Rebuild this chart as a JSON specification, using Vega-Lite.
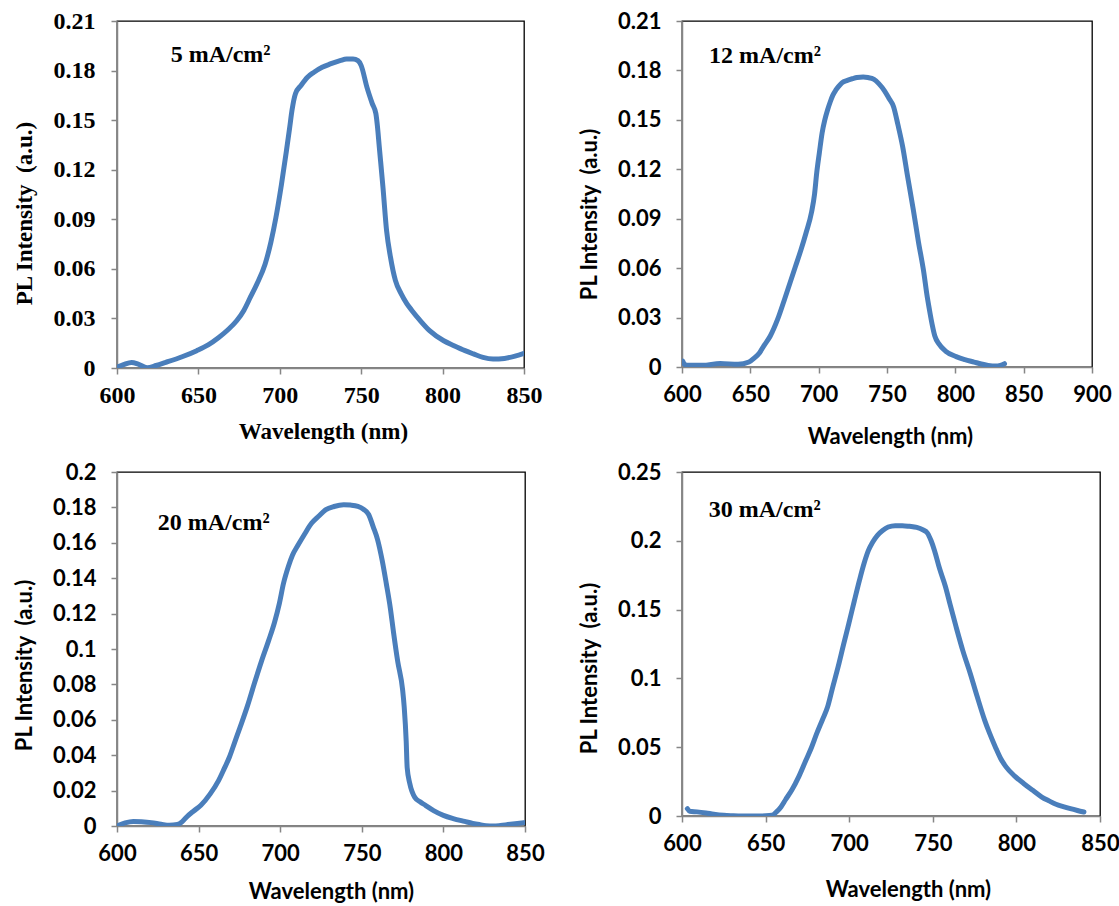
{
"$schema":"https://vega.github.io/schema/vega-lite/v6.json",
"background":"white",
"padding":{"left":12,"top":8,"right":0,"bottom":0},
"columns":2,
"bounds":"flush",
"align":"each",
"spacing":{"row":104,"column":157},
"config":{
 "view":{"stroke":"#000000","strokeWidth":1.3},
 "axis":{"grid":false,"domainColor":"#868686","domainWidth":1.5,"tickColor":"#868686","tickWidth":1.5,"tickSize":6,"labelColor":"#000","titleColor":"#000","labelFontWeight":"bold","titleFontWeight":"bold","labelOverlap":false,"labelFlush":false,"labelBound":false}
},
"concat":[
{
 "width":407,"height":347,
 "layer":[
  {"data":{"values":[
{"wavelength":600,"intensity":0.0005},{"wavelength":604,"intensity":0.002},{"wavelength":609,"intensity":0.0034},{"wavelength":613,"intensity":0.0024},{"wavelength":618.5,"intensity":0.0002},{"wavelength":624,"intensity":0.0015},{"wavelength":630,"intensity":0.0034},{"wavelength":640,"intensity":0.0068},{"wavelength":649,"intensity":0.0105},{"wavelength":656,"intensity":0.014},{"wavelength":662.5,"intensity":0.0185},{"wavelength":668,"intensity":0.023},{"wavelength":673.5,"intensity":0.0286},{"wavelength":678,"intensity":0.035},{"wavelength":682,"intensity":0.043},{"wavelength":686,"intensity":0.051},{"wavelength":691,"intensity":0.063},{"wavelength":694.5,"intensity":0.076},{"wavelength":697.6,"intensity":0.091},{"wavelength":701,"intensity":0.111},{"wavelength":704,"intensity":0.131},{"wavelength":706,"intensity":0.145},{"wavelength":707.5,"intensity":0.156},{"wavelength":709.6,"intensity":0.166},{"wavelength":713,"intensity":0.171},{"wavelength":717,"intensity":0.176},{"wavelength":721,"intensity":0.179},{"wavelength":726,"intensity":0.182},{"wavelength":731,"intensity":0.184},{"wavelength":737,"intensity":0.186},{"wavelength":741,"intensity":0.187},{"wavelength":745,"intensity":0.187},{"wavelength":748,"intensity":0.186},{"wavelength":750,"intensity":0.183},{"wavelength":753.5,"intensity":0.170},{"wavelength":756.8,"intensity":0.160},{"wavelength":759,"intensity":0.154},{"wavelength":760,"intensity":0.146},{"wavelength":761,"intensity":0.135},{"wavelength":763.4,"intensity":0.109},{"wavelength":765.6,"intensity":0.083},{"wavelength":768,"intensity":0.067},{"wavelength":771,"intensity":0.053},{"wavelength":774.5,"intensity":0.045},{"wavelength":778,"intensity":0.039},{"wavelength":781,"intensity":0.035},{"wavelength":786,"intensity":0.029},{"wavelength":792,"intensity":0.0226},{"wavelength":800.7,"intensity":0.0165},{"wavelength":807,"intensity":0.0135},{"wavelength":813.8,"intensity":0.0105},{"wavelength":819,"intensity":0.0085},{"wavelength":824.8,"intensity":0.0064},{"wavelength":831,"intensity":0.0054},{"wavelength":838,"intensity":0.0058},{"wavelength":844.5,"intensity":0.0072},{"wavelength":850,"intensity":0.0089}
  ]},
  "mark":{"type":"line","interpolate":"monotone","color":"#4a7ebb","strokeWidth":5,"strokeCap":"round","clip":true},
  "encoding":{
   "x":{"field":"wavelength","type":"quantitative","scale":{"domain":[600,850],"nice":false,"zero":false},"axis":{"values":[600,650,700,750,800,850],"format":"d","title":"Wavelength (nm)","labelOverlap":false,"labelFont":"Liberation Serif","labelFontSize":24,"labelPadding":9,"titleFont":"Liberation Serif","titleFontSize":23,"titleX":206,"titleY":70,"titleBaseline":"alphabetic"}},
   "y":{"field":"intensity","type":"quantitative","scale":{"domain":[0,0.21],"nice":false,"zero":false},"axis":{"values":[0,0.03,0.06,0.09,0.12,0.15,0.18,0.21],"format":".2~f","title":"PL Intensity\u00a0\u00a0(a.u.)","labelOverlap":false,"labelFont":"Liberation Serif","labelFontSize":24,"labelPadding":16,"titleFont":"Liberation Serif","titleFontSize":23,"titleX":-93,"titleY":192,"titleBaseline":"middle","titleAlign":"center","titleAngle":270}}
  }},
  {"data":{"values":[{"wavelength":633,"intensity":0.1852,"label":"5 mA/cm²"}]},
   "mark":{"type":"text","font":"Liberation Serif","fontWeight":"bold","fontSize":24,"align":"left","baseline":"alphabetic","color":"#000"},
   "encoding":{"x":{"field":"wavelength","type":"quantitative"},"y":{"field":"intensity","type":"quantitative"},"text":{"field":"label"}}}
 ]
},
{
 "width":410,"height":346,
 "layer":[
  {"data":{"values":[
{"wavelength":600.5,"intensity":0.0036},{"wavelength":602,"intensity":0.0015},{"wavelength":605,"intensity":0.001},{"wavelength":615,"intensity":0.001},{"wavelength":628,"intensity":0.0022},{"wavelength":641,"intensity":0.0016},{"wavelength":649,"intensity":0.003},{"wavelength":653,"intensity":0.0055},{"wavelength":656.8,"intensity":0.0087},{"wavelength":660,"intensity":0.013},{"wavelength":664.6,"intensity":0.0188},{"wavelength":670,"intensity":0.029},{"wavelength":675,"intensity":0.041},{"wavelength":679,"intensity":0.051},{"wavelength":683,"intensity":0.061},{"wavelength":687,"intensity":0.071},{"wavelength":690.8,"intensity":0.0815},{"wavelength":694.8,"intensity":0.094},{"wavelength":697,"intensity":0.105},{"wavelength":698.6,"intensity":0.118},{"wavelength":700.5,"intensity":0.13},{"wavelength":702.5,"intensity":0.142},{"wavelength":704.5,"intensity":0.15},{"wavelength":706.5,"intensity":0.156},{"wavelength":708.5,"intensity":0.161},{"wavelength":710.4,"intensity":0.165},{"wavelength":712.5,"intensity":0.168},{"wavelength":714.3,"intensity":0.170},{"wavelength":717,"intensity":0.1725},{"wavelength":721,"intensity":0.174},{"wavelength":724.8,"intensity":0.175},{"wavelength":728,"intensity":0.1757},{"wavelength":732.6,"intensity":0.176},{"wavelength":736,"intensity":0.1757},{"wavelength":740.5,"intensity":0.1746},{"wavelength":744,"intensity":0.172},{"wavelength":748.3,"intensity":0.1675},{"wavelength":751.5,"intensity":0.163},{"wavelength":754.8,"intensity":0.158},{"wavelength":758,"intensity":0.147},{"wavelength":761.4,"intensity":0.134},{"wavelength":765,"intensity":0.116},{"wavelength":769.2,"intensity":0.0957},{"wavelength":773,"intensity":0.076},{"wavelength":777,"intensity":0.057},{"wavelength":779,"intensity":0.045},{"wavelength":781,"intensity":0.035},{"wavelength":783,"intensity":0.026},{"wavelength":785,"intensity":0.0188},{"wavelength":788,"intensity":0.014},{"wavelength":792.8,"intensity":0.0097},{"wavelength":800.6,"intensity":0.0063},{"wavelength":807,"intensity":0.0045},{"wavelength":813.7,"intensity":0.003},{"wavelength":819,"intensity":0.0018},{"wavelength":824,"intensity":0.001},{"wavelength":829.4,"intensity":0.0006},{"wavelength":833,"intensity":0.001},{"wavelength":836,"intensity":0.002}
  ]},
  "mark":{"type":"line","interpolate":"monotone","color":"#4a7ebb","strokeWidth":5,"strokeCap":"round","clip":true},
  "encoding":{
   "x":{"field":"wavelength","type":"quantitative","scale":{"domain":[600,900],"nice":false,"zero":false},"axis":{"values":[600,650,700,750,800,850,900],"format":"d","title":"Wavelength (nm)","labelOverlap":false,"labelFont":"Lato","labelFontSize":22,"labelPadding":11,"titleFont":"Lato","titleFontSize":22,"titleX":208,"titleY":76,"titleBaseline":"alphabetic"}},
   "y":{"field":"intensity","type":"quantitative","scale":{"domain":[0,0.21],"nice":false,"zero":false},"axis":{"values":[0,0.03,0.06,0.09,0.12,0.15,0.18,0.21],"format":".2~f","title":"PL Intensity\u00a0\u00a0(a.u.)","labelOverlap":false,"labelFont":"Lato","labelFontSize":22,"labelPadding":15,"titleFont":"Lato","titleFontSize":22,"titleX":-93,"titleY":193,"titleBaseline":"middle","titleAlign":"center","titleAngle":270}}
  }},
  {"data":{"values":[{"wavelength":619.8,"intensity":0.1843,"label":"12 mA/cm²"}]},
   "mark":{"type":"text","font":"Liberation Serif","fontWeight":"bold","fontSize":24,"align":"left","baseline":"alphabetic","color":"#000"},
   "encoding":{"x":{"field":"wavelength","type":"quantitative"},"y":{"field":"intensity","type":"quantitative"},"text":{"field":"label"}}}
 ]
},
{
 "width":408,"height":354,
 "layer":[
  {"data":{"values":[
{"wavelength":601,"intensity":0.0004},{"wavelength":605,"intensity":0.0018},{"wavelength":610,"intensity":0.0026},{"wavelength":615,"intensity":0.0024},{"wavelength":621,"intensity":0.0019},{"wavelength":627,"intensity":0.001},{"wavelength":632,"intensity":0.0004},{"wavelength":637,"intensity":0.0008},{"wavelength":640,"intensity":0.0025},{"wavelength":642.7,"intensity":0.0051},{"wavelength":647,"intensity":0.0085},{"wavelength":651.4,"intensity":0.0117},{"wavelength":657,"intensity":0.018},{"wavelength":662.3,"intensity":0.0258},{"wavelength":665.5,"intensity":0.032},{"wavelength":668.9,"intensity":0.039},{"wavelength":672,"intensity":0.047},{"wavelength":675.5,"intensity":0.056},{"wavelength":680,"intensity":0.068},{"wavelength":684.2,"intensity":0.0806},{"wavelength":688.5,"intensity":0.093},{"wavelength":693,"intensity":0.105},{"wavelength":696.5,"intensity":0.115},{"wavelength":699.5,"intensity":0.1258},{"wavelength":702,"intensity":0.137},{"wavelength":705,"intensity":0.1466},{"wavelength":707.5,"intensity":0.153},{"wavelength":710.5,"intensity":0.158},{"wavelength":715,"intensity":0.165},{"wavelength":719.2,"intensity":0.171},{"wavelength":723.5,"intensity":0.175},{"wavelength":728,"intensity":0.1787},{"wavelength":733,"intensity":0.1805},{"wavelength":738.9,"intensity":0.1815},{"wavelength":743,"intensity":0.1813},{"wavelength":747.6,"intensity":0.1806},{"wavelength":751,"intensity":0.179},{"wavelength":754.2,"intensity":0.176},{"wavelength":757,"intensity":0.169},{"wavelength":759.7,"intensity":0.1617},{"wavelength":762.5,"intensity":0.15},{"wavelength":765,"intensity":0.137},{"wavelength":767.5,"intensity":0.123},{"wavelength":769.5,"intensity":0.109},{"wavelength":772,"intensity":0.093},{"wavelength":775,"intensity":0.077},{"wavelength":776,"intensity":0.067},{"wavelength":777.2,"intensity":0.048},{"wavelength":777.8,"intensity":0.033},{"wavelength":779.4,"intensity":0.024},{"wavelength":782.6,"intensity":0.016},{"wavelength":786,"intensity":0.0135},{"wavelength":789,"intensity":0.0117},{"wavelength":794,"intensity":0.0087},{"wavelength":800,"intensity":0.006},{"wavelength":806,"intensity":0.0042},{"wavelength":813,"intensity":0.0026},{"wavelength":818,"intensity":0.0015},{"wavelength":822,"intensity":0.0008},{"wavelength":826,"intensity":0.0002},{"wavelength":830.8,"intensity":0},{"wavelength":835,"intensity":0.0003},{"wavelength":839.5,"intensity":0.0008},{"wavelength":844,"intensity":0.0013},{"wavelength":849.3,"intensity":0.0019}
  ]},
  "mark":{"type":"line","interpolate":"monotone","color":"#4a7ebb","strokeWidth":5,"strokeCap":"round","clip":true},
  "encoding":{
   "x":{"field":"wavelength","type":"quantitative","scale":{"domain":[600,850],"nice":false,"zero":false},"axis":{"values":[600,650,700,750,800,850],"format":"d","title":"Wavelength (nm)","labelOverlap":false,"labelFont":"Lato","labelFontSize":22,"labelPadding":11,"titleFont":"Lato","titleFontSize":22,"titleX":214,"titleY":72,"titleBaseline":"alphabetic"}},
   "y":{"field":"intensity","type":"quantitative","scale":{"domain":[0,0.2],"nice":false,"zero":false},"axis":{"tickCount":10,"format":".2~f","title":"PL Intensity\u00a0\u00a0(a.u.)","labelOverlap":false,"labelFont":"Lato","labelFontSize":22,"labelPadding":15,"titleFont":"Lato","titleFontSize":22,"titleX":-93,"titleY":193,"titleBaseline":"middle","titleAlign":"center","titleAngle":270}}
  }},
  {"data":{"values":[{"wavelength":625,"intensity":0.1672,"label":"20 mA/cm²"}]},
   "mark":{"type":"text","font":"Liberation Serif","fontWeight":"bold","fontSize":24,"align":"left","baseline":"alphabetic","color":"#000"},
   "encoding":{"x":{"field":"wavelength","type":"quantitative"},"y":{"field":"intensity","type":"quantitative"},"text":{"field":"label"}}}
 ]
},
{
 "width":418,"height":344,
 "layer":[
  {"data":{"values":[
{"wavelength":603.2,"intensity":0.0053},{"wavelength":604.7,"intensity":0.0034},{"wavelength":609,"intensity":0.003},{"wavelength":614.3,"intensity":0.0022},{"wavelength":619,"intensity":0.0013},{"wavelength":625,"intensity":0.0005},{"wavelength":630,"intensity":0.0002},{"wavelength":635.7,"intensity":0},{"wavelength":641,"intensity":0},{"wavelength":646.4,"intensity":0},{"wavelength":650,"intensity":0.0001},{"wavelength":653.8,"intensity":0.0005},{"wavelength":656.5,"intensity":0.003},{"wavelength":659.2,"intensity":0.0066},{"wavelength":662,"intensity":0.012},{"wavelength":665.6,"intensity":0.0187},{"wavelength":670,"intensity":0.029},{"wavelength":674.1,"intensity":0.0405},{"wavelength":677.5,"intensity":0.05},{"wavelength":680.6,"intensity":0.06},{"wavelength":684,"intensity":0.07},{"wavelength":687,"intensity":0.079},{"wavelength":690,"intensity":0.093},{"wavelength":693.4,"intensity":0.1085},{"wavelength":696.5,"intensity":0.124},{"wavelength":699.8,"intensity":0.14},{"wavelength":703,"intensity":0.156},{"wavelength":706.2,"intensity":0.1716},{"wavelength":709,"intensity":0.184},{"wavelength":711.5,"intensity":0.193},{"wavelength":714,"intensity":0.199},{"wavelength":716.9,"intensity":0.204},{"wavelength":720,"intensity":0.2075},{"wavelength":723.3,"intensity":0.21},{"wavelength":727.5,"intensity":0.211},{"wavelength":731.8,"intensity":0.211},{"wavelength":736,"intensity":0.2105},{"wavelength":740.4,"intensity":0.2097},{"wavelength":744,"intensity":0.208},{"wavelength":746.8,"intensity":0.2056},{"wavelength":749,"intensity":0.2},{"wavelength":751,"intensity":0.193},{"wavelength":754,"intensity":0.18},{"wavelength":757.5,"intensity":0.167},{"wavelength":760.5,"intensity":0.153},{"wavelength":763.9,"intensity":0.1376},{"wavelength":768,"intensity":0.12},{"wavelength":772.4,"intensity":0.1036},{"wavelength":776.5,"intensity":0.087},{"wavelength":781,"intensity":0.0697},{"wavelength":784,"intensity":0.06},{"wavelength":787.4,"intensity":0.0502},{"wavelength":790.5,"intensity":0.042},{"wavelength":793.8,"intensity":0.0357},{"wavelength":799,"intensity":0.029},{"wavelength":804.5,"intensity":0.0235},{"wavelength":810,"intensity":0.0185},{"wavelength":815.2,"intensity":0.0138},{"wavelength":819.5,"intensity":0.011},{"wavelength":823.7,"intensity":0.0085},{"wavelength":828,"intensity":0.0068},{"wavelength":832.3,"intensity":0.0053},{"wavelength":836.5,"intensity":0.004},{"wavelength":840.4,"intensity":0.0029}
  ]},
  "mark":{"type":"line","interpolate":"monotone","color":"#4a7ebb","strokeWidth":5,"strokeCap":"round","clip":true},
  "encoding":{
   "x":{"field":"wavelength","type":"quantitative","scale":{"domain":[600,850],"nice":false,"zero":false},"axis":{"values":[600,650,700,750,800,850],"format":"d","title":"Wavelength (nm)","labelOverlap":false,"labelFont":"Lato","labelFontSize":22,"labelPadding":11,"titleFont":"Lato","titleFontSize":22,"titleX":226,"titleY":80,"titleBaseline":"alphabetic"}},
   "y":{"field":"intensity","type":"quantitative","scale":{"domain":[0,0.25],"nice":false,"zero":false},"axis":{"values":[0,0.05,0.1,0.15,0.2,0.25],"format":".2~f","title":"PL Intensity\u00a0\u00a0(a.u.)","labelOverlap":false,"labelFont":"Lato","labelFontSize":22,"labelPadding":15,"titleFont":"Lato","titleFontSize":22,"titleX":-93,"titleY":196,"titleBaseline":"middle","titleAlign":"center","titleAngle":270}}
  }},
  {"data":{"values":[{"wavelength":616,"intensity":0.2175,"label":"30 mA/cm²"}]},
   "mark":{"type":"text","font":"Liberation Serif","fontWeight":"bold","fontSize":24,"align":"left","baseline":"alphabetic","color":"#000"},
   "encoding":{"x":{"field":"wavelength","type":"quantitative"},"y":{"field":"intensity","type":"quantitative"},"text":{"field":"label"}}}
 ]
}
]
}
